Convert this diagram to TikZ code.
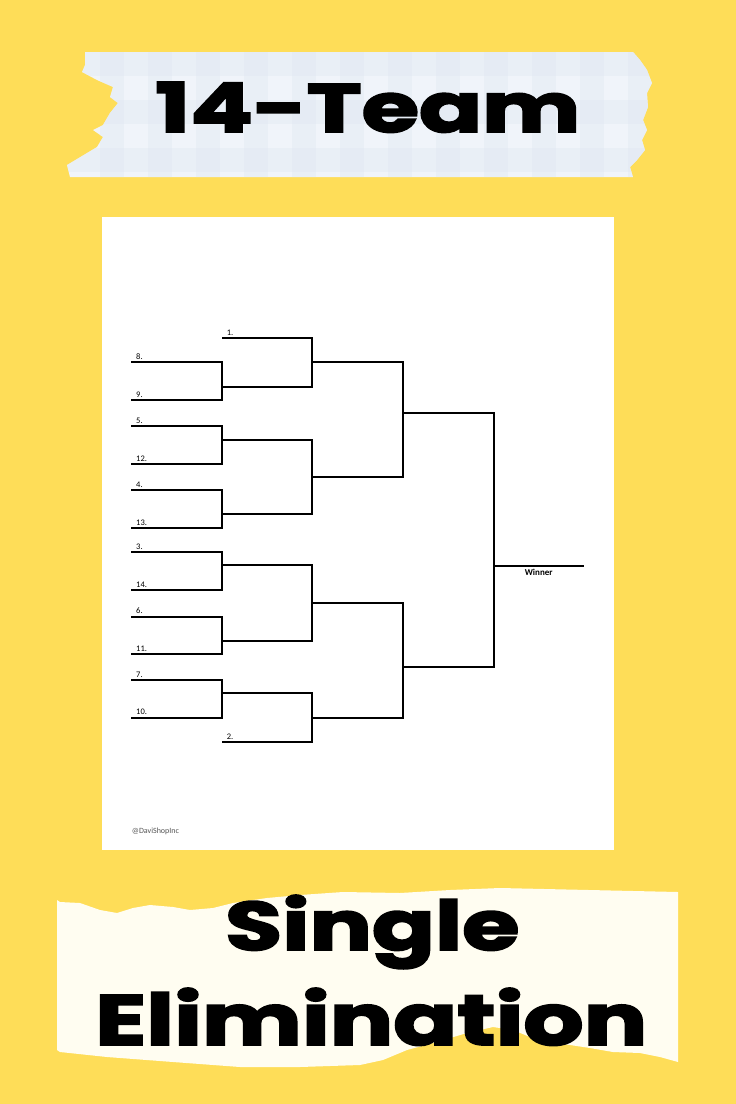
\documentclass[tikz,border=0pt]{standalone}
\usepackage{fontspec}
\usepackage{graphicx}
\newfontfamily\poppins{Poppins}[BoldFeatures={FakeBold=2.5}]
\newfontfamily\carlito{Carlito}
\definecolor{bgyellow}{HTML}{FEDD58}
\definecolor{tapeblue}{HTML}{F0F4FA}
\definecolor{checkblue}{HTML}{DCE4F0}
\definecolor{paper}{HTML}{FFFDF1}
\definecolor{markgray}{HTML}{555555}
\tikzset{
  br/.style={line width=1.7pt, black, line join=miter},
  lbl/.style={font=\carlito\fontsize{8.5}{9}\selectfont, inner sep=0pt, anchor=base west},
  title/.style={font=\poppins\bfseries, inner sep=0pt, anchor=base west},
}
\begin{document}
\begin{tikzpicture}[x=1pt,y=-1pt]
\useasboundingbox (0,0) rectangle (736,1104);
\fill[bgyellow] (0,0) rectangle (736,1104);

% top tape
\path[fill=tapeblue] (85,52) -- (633,52) -- (640,60) -- (647,70) -- (652,83) -- (647,93) -- (648,107)
  -- (643,120) -- (647,130) -- (642,140) -- (645,150) -- (637,160) -- (630,167) -- (633,177)
  -- (70,177) -- (67,165) -- (87,153) -- (97,147) -- (103,137) -- (93,130) -- (103,125)
  -- (110,113) -- (118,103) -- (110,97) -- (113,87) -- (97,80) -- (82,72) -- (85,65) -- cycle;
\begin{scope}
\clip (85,52) -- (633,52) -- (640,60) -- (647,70) -- (652,83) -- (647,93) -- (648,107)
  -- (643,120) -- (647,130) -- (642,140) -- (645,150) -- (637,160) -- (630,167) -- (633,177)
  -- (70,177) -- (67,165) -- (87,153) -- (97,147) -- (103,137) -- (93,130) -- (103,125)
  -- (110,113) -- (118,103) -- (110,97) -- (113,87) -- (97,80) -- (82,72) -- (85,65) -- cycle;
\foreach \x in {100,148,...,660} \fill[checkblue,opacity=0.3] (\x,40) rectangle (\x+24,190);
\foreach \y in {52,100,148} \fill[checkblue,opacity=0.3] (60,\y) rectangle (660,\y+24);
\end{scope}
\node[title] (t14team) at (155,132) {\resizebox{425pt}{50pt}{14-Team}};

% bottom paper
\fill[paper] (57,900) -- (60,902) -- (80,903) -- (100,910) -- (117,913) -- (133,908) -- (150,905)
  -- (173,907) -- (190,910) -- (213,908) -- (233,903) -- (267,898) -- (300,895) -- (343,892)
  -- (400,893) -- (450,890) -- (500,888) -- (678,892) -- (678,1062) -- (660,1057) -- (640,1053)
  -- (613,1052) -- (590,1048) -- (570,1045) -- (547,1042) -- (530,1037) -- (513,1030)
  -- (493,1027) -- (467,1033) -- (433,1043) -- (407,1050) -- (383,1060) -- (360,1065)
  -- (300,1067) -- (240,1067) -- (173,1062) -- (107,1057) -- (60,1052) -- (57,1050) -- cycle;
\node[title] (tsingle) at (225,950) {\resizebox{294pt}{55pt}{Single}};
\node[title] (telim) at (95,1045) {\resizebox{552pt}{57pt}{Elimination}};

% sheet
\fill[white] (101.5,216.5) rectangle (614,850);
\node[font=\carlito\fontsize{8}{9}\selectfont, text=markgray, inner sep=0pt, anchor=base west] (mark) at (131.7,833) {@DaviShopInc};

% first-round slots
\foreach \n/\y in {8/362.3,9/400,5/426.3,12/464,4/490.3,13/528,3/552.3,14/590,6/616.7,11/654,7/680,10/717.7}{
  \coordinate (a\n) at (131.3,\y);
  \coordinate (b\n) at (222,\y);
  \node[lbl] (t\n) at ([xshift=4.7pt,yshift=3pt]a\n) {\n.};
}
% byes
\coordinate (c1) at (222,338.3); \coordinate (d1) at (312.3,338.3);
\coordinate (c2) at (222,742.3); \coordinate (d2) at (312.3,742.3);
\node[lbl] (t1) at ([xshift=4.7pt,yshift=3pt]c1) {1.};
\node[lbl] (t2) at ([xshift=4.7pt,yshift=3pt]c2) {2.};

% round-1 winners
\foreach \k/\y in {89/387,512/440,413/514.3,314/565,611/640.7,710/693.3}{
  \coordinate (m\k) at (222,\y);
  \coordinate (n\k) at (312.3,\y);
}
% round-2 winners
\foreach \k/\y in {1/362.3,2/477.3,3/602.7,4/717.7}{
  \coordinate (e\k) at (312.3,\y);
  \coordinate (f\k) at (403,\y);
}
% round-3 winners
\foreach \k/\y in {1/413,2/666.7}{
  \coordinate (g\k) at (403,\y);
  \coordinate (h\k) at (493.7,\y);
}
\coordinate (fin) at (493.7,565.7);
\coordinate (champ) at (584,565.7);

% round 1
\draw[br] (a8) -- (b8) -- (b9) -- (a9);
\draw[br] (a5) -- (b5) -- (b12) -- (a12);
\draw[br] (a4) -- (b4) -- (b13) -- (a13);
\draw[br] (a3) -- (b3) -- (b14) -- (a14);
\draw[br] (a6) -- (b6) -- (b11) -- (a11);
\draw[br] (a7) -- (b7) -- (b10) -- (a10);
% round 2
\draw[br] (c1) -- (d1) -- (n89) -- (m89);
\draw[br] (m512) -- (n512) -- (n413) -- (m413);
\draw[br] (m314) -- (n314) -- (n611) -- (m611);
\draw[br] (m710) -- (n710) -- (d2) -- (c2);
% round 3
\draw[br] (e1) -- (f1) -- (f2) -- (e2);
\draw[br] (e3) -- (f3) -- (f4) -- (e4);
% round 4
\draw[br] (g1) -- (h1) -- (h2) -- (g2);
% final
\draw[br] (fin) -- (champ);
\node[font=\carlito\bfseries\fontsize{9}{10}\selectfont, inner sep=0pt, anchor=base] (win) at (538.7,575.7) {Winner};
\end{tikzpicture}
\end{document}
